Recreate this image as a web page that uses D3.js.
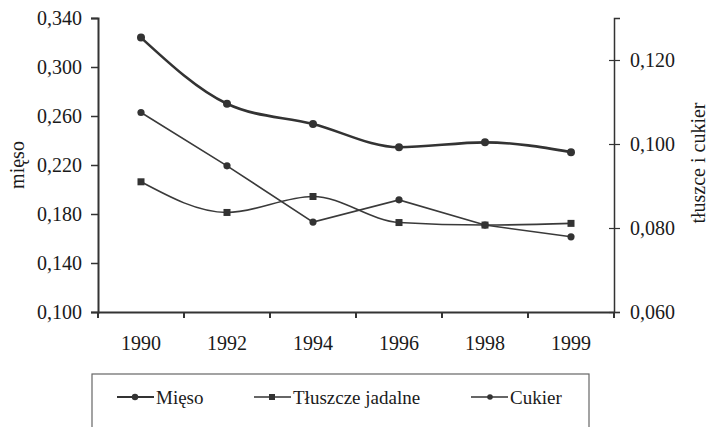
<!DOCTYPE html>
<html>
<head>
<meta charset="utf-8">
<script src="https://cdn.jsdelivr.net/npm/d3@7"></script>
<style>
  body { margin: 0; background: #fff; }
  svg text { font-family: "Liberation Serif", "Times New Roman", serif; fill: #1a1a1a; }
</style>
</head>
<body>
<div id="chart"></div>
<script>
// DATA
const years = ["1990", "1992", "1994", "1996", "1998", "1999"];
const mieso = [0.324, 0.270, 0.2535, 0.2345, 0.2385, 0.2305];
const tluszcze = [0.0910, 0.0837, 0.0875, 0.0813, 0.0807, 0.0811];
const cukier = [0.1075, 0.0948, 0.0814, 0.0867, 0.0807, 0.0779];
const leftTicks = [0.100, 0.140, 0.180, 0.220, 0.260, 0.300, 0.340];
const rightTicks = [0.060, 0.080, 0.100, 0.120];

const width = 709, height = 427;
const margin = {top: 18, left: 98, right: 95, bottom: 115};
const fmt = d => d3.format(".3f")(d).replace(".", ",");

const svg = d3.select("#chart").append("svg")
    .attr("width", width)
    .attr("height", height);

// SCALES
const xScale = d3.scaleBand()
    .domain(years)
    .range([margin.left, width - margin.right])
    .padding(0);

const yLeft = d3.scaleLinear()
    .domain([0.100, 0.340])
    .range([height - margin.bottom, margin.top]);

const yRight = d3.scaleLinear()
    .domain([0.060, 0.130])
    .range([height - margin.bottom, margin.top]);

const cx = d => xScale(d) + xScale.bandwidth() / 2;

// AXES
const xAxis = svg.append("g")
    .attr("transform", `translate(0,${height - margin.bottom})`)
    .call(d3.axisBottom(xScale).tickSize(0).tickPadding(24).tickFormat(d => d));
xAxis.select(".domain").attr("stroke", "#333").attr("stroke-width", 2);
xAxis.selectAll("text").attr("font-size", 20);

// band boundary ticks
const edges = years.map(d => xScale(d)).concat([xScale(years[years.length - 1]) + xScale.bandwidth()]);
svg.append("g").selectAll("line")
    .data(edges)
    .join("line")
    .attr("x1", d => d).attr("x2", d => d)
    .attr("y1", height - margin.bottom).attr("y2", height - margin.bottom + 6)
    .attr("stroke", "#333").attr("stroke-width", 2);

const leftAxis = svg.append("g")
    .attr("transform", `translate(${margin.left},0)`)
    .call(d3.axisLeft(yLeft).tickValues(leftTicks).tickSize(7).tickPadding(9).tickFormat(fmt));
leftAxis.select(".domain").attr("stroke", "#333").attr("stroke-width", 2);
leftAxis.selectAll(".tick line").attr("stroke", "#333").attr("stroke-width", 1.5);
leftAxis.selectAll("text").attr("font-size", 20);

const rightAxis = svg.append("g")
    .attr("transform", `translate(${width - margin.right},0)`)
    .call(d3.axisRight(yRight).tickValues(rightTicks).tickSize(6).tickPadding(10).tickFormat(fmt));
rightAxis.select(".domain").attr("stroke", "#333").attr("stroke-width", 1.5);
rightAxis.selectAll(".tick line").attr("x1", -5).attr("stroke", "#333").attr("stroke-width", 1.2);
rightAxis.selectAll("text").attr("font-size", 20);

// AXIS TITLES
svg.append("text")
    .attr("transform", "rotate(-90)")
    .attr("x", -165)
    .attr("y", 17)
    .attr("text-anchor", "middle")
    .attr("dominant-baseline", "central")
    .attr("font-size", 20)
    .text("mięso");

svg.append("text")
    .attr("transform", "rotate(-90)")
    .attr("x", -163)
    .attr("y", 698)
    .attr("text-anchor", "middle")
    .attr("dominant-baseline", "central")
    .attr("font-size", 20)
    .text("tłuszce i cukier");

// LINES
const lineLeft = d3.line().x((d, i) => cx(years[i])).y(d => yLeft(d)).curve(d3.curveMonotoneX);
const lineRightSmooth = d3.line().x((d, i) => cx(years[i])).y(d => yRight(d)).curve(d3.curveMonotoneX);
const lineRightStraight = d3.line().x((d, i) => cx(years[i])).y(d => yRight(d));

svg.append("path").attr("d", lineRightStraight(cukier))
    .attr("fill", "none").attr("stroke", "#3a3a3a").attr("stroke-width", 1.6);
svg.append("path").attr("d", lineRightSmooth(tluszcze))
    .attr("fill", "none").attr("stroke", "#3a3a3a").attr("stroke-width", 1.6);
svg.append("path").attr("d", lineLeft(mieso))
    .attr("fill", "none").attr("stroke", "#333").attr("stroke-width", 2.6);

// MARKERS
svg.append("g").selectAll("circle")
    .data(mieso)
    .join("circle")
    .attr("cx", (d, i) => cx(years[i]))
    .attr("cy", d => yLeft(d))
    .attr("r", 4)
    .attr("fill", "#333");

svg.append("g").selectAll("circle")
    .data(cukier)
    .join("circle")
    .attr("cx", (d, i) => cx(years[i]))
    .attr("cy", d => yRight(d))
    .attr("r", 3.6)
    .attr("fill", "#333");

svg.append("g").selectAll("rect")
    .data(tluszcze)
    .join("rect")
    .attr("x", (d, i) => cx(years[i]) - 3.5)
    .attr("y", d => yRight(d) - 3.5)
    .attr("width", 7)
    .attr("height", 7)
    .attr("fill", "#333");

// LEGEND
svg.append("rect")
    .attr("x", 92).attr("y", 374)
    .attr("width", 497).attr("height", 70)
    .attr("fill", "none").attr("stroke", "#666").attr("stroke-width", 1.2);

const legendItems = [
    {name: "Mięso", x: 117, shape: "circle", w: 2},
    {name: "Tłuszcze jadalne", x: 254, shape: "square", w: 1.4},
    {name: "Cukier", x: 471, shape: "dot", w: 1.4}
];
const ly = 397;
const lg = svg.append("g").selectAll("g")
    .data(legendItems)
    .join("g")
    .attr("transform", d => `translate(${d.x},${ly})`);

lg.append("line")
    .attr("x1", 0).attr("x2", 37)
    .attr("stroke", "#333").attr("stroke-width", d => d.w);
lg.filter(d => d.shape === "circle").append("circle")
    .attr("cx", 18).attr("r", 3.2).attr("fill", "#333");
lg.filter(d => d.shape === "dot").append("circle")
    .attr("cx", 19).attr("r", 2.8).attr("fill", "#333");
lg.filter(d => d.shape === "square").append("rect")
    .attr("x", 15).attr("y", -3).attr("width", 6).attr("height", 6).attr("fill", "#333");
lg.append("text")
    .attr("x", 39)
    .attr("y", 0)
    .attr("dominant-baseline", "central")
    .attr("font-size", 19)
    .text(d => d.name);
</script>
</body>
</html>
